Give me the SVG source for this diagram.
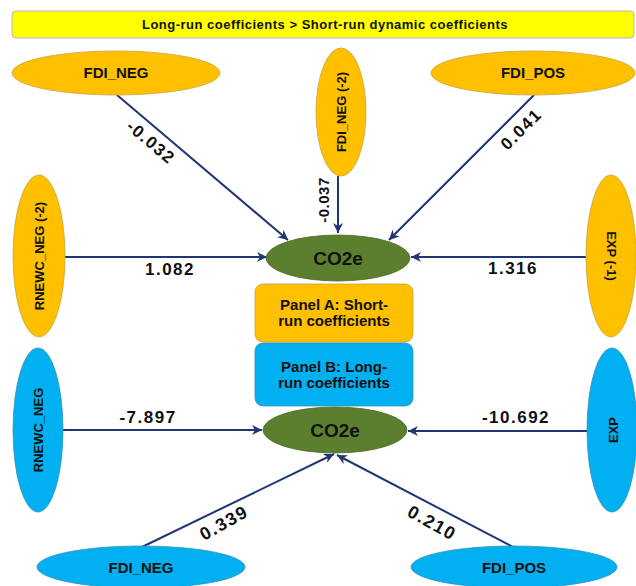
<svg xmlns="http://www.w3.org/2000/svg" width="636" height="586" viewBox="0 0 636 586">
<defs>
<style>
.t{font-family:"Liberation Sans",Arial,sans-serif;font-weight:bold;fill:#111;text-anchor:middle}
.or{fill:#FFC000;stroke:#C9A23A;stroke-width:0.8}
.bl{fill:#00B0F0;stroke:#3A8FB8;stroke-width:0.8}
.gr{fill:#5B7F2E;stroke:#4A6A26;stroke-width:0.8}
.n{font-size:15px}
.v{font-size:13px}
.e{font-size:17px;letter-spacing:1.5px}
.c{font-size:19px}
.p{font-size:15px}
.ln{stroke:#1F3576;stroke-width:2;fill:none;marker-end:url(#ah)}
</style>
<marker id="ah" viewBox="0 0 10 10" refX="10" refY="5" markerWidth="5" markerHeight="5" orient="auto" markerUnits="strokeWidth">
<path d="M0,0 L10,5 L0,10 L3,5 Z" fill="#1F3576"/>
</marker>
</defs>
<rect width="636" height="586" fill="#fff"/>

<g id="title">
<rect x="12" y="11" width="622" height="27" rx="4" fill="#FFFF00" stroke="#B8B8B8" stroke-width="1"/>
<text class="t" x="325" y="29" font-size="13" letter-spacing="0.5">Long-run coefficients &gt; Short-run dynamic coefficients</text>
</g>

<g id="connectors">
<line class="ln" x1="117" y1="95" x2="288" y2="240"/>
<line class="ln" x1="338" y1="176" x2="338" y2="233"/>
<line class="ln" x1="534" y1="95" x2="389" y2="240"/>
<line class="ln" x1="65" y1="257" x2="267" y2="257"/>
<line class="ln" x1="586" y1="257" x2="411" y2="257"/>
<line class="ln" x1="63" y1="430" x2="262" y2="430"/>
<line class="ln" x1="588" y1="431" x2="408" y2="431"/>
<line class="ln" x1="142" y1="547" x2="334" y2="454"/>
<line class="ln" x1="513" y1="547" x2="337" y2="455"/>
<text class="t e" transform="translate(151,142) rotate(40)" y="6">-0.032</text>
<text class="t" font-size="15" letter-spacing="0.5" transform="translate(324,200) rotate(-90)" y="5">-0.037</text>
<text class="t e" transform="translate(521,129) rotate(-45)" y="6">0.041</text>
<text class="t e" x="170" y="275">1.082</text>
<text class="t e" x="513" y="274">1.316</text>
<text class="t e" x="148" y="423">-7.897</text>
<text class="t e" x="516" y="423">-10.692</text>
<text class="t" font-size="18" letter-spacing="1.5" transform="translate(224,523) rotate(-29)" y="6">0.339</text>
<text class="t" font-size="18" letter-spacing="1.5" transform="translate(432,523) rotate(29)" y="6">0.210</text>
</g>

<g id="fdi_neg_sr">
<ellipse class="or" cx="116" cy="73" rx="104" ry="22"/>
<text class="t n" x="116" y="78">FDI_NEG</text>
</g>
<g id="fdi_neg2_sr">
<ellipse class="or" cx="341" cy="112" rx="25" ry="64"/>
<text class="t v" transform="translate(341,112) rotate(-90)" y="4.5">FDI_NEG (-2)</text>
</g>
<g id="fdi_pos_sr">
<ellipse class="or" cx="533" cy="73" rx="102" ry="22"/>
<text class="t n" x="533" y="78">FDI_POS</text>
</g>
<g id="rnewc_neg2_sr">
<ellipse class="or" cx="39" cy="256" rx="26" ry="81"/>
<text class="t v" transform="translate(39,256) rotate(-90)" y="4.5">RNEWC_NEG (-2)</text>
</g>
<g id="exp1_sr">
<ellipse class="or" cx="611" cy="256" rx="25" ry="81"/>
<text class="t v" transform="translate(611,256) rotate(90)" y="4.5">EXP (-1)</text>
</g>
<g id="co2e_sr">
<ellipse class="gr" cx="338" cy="258" rx="72" ry="23"/>
<text class="t c" x="338" y="265">CO2e</text>
</g>
<g id="panel_a">
<rect x="255" y="284" width="158" height="58" rx="8" fill="#FFC000" stroke="#C9A23A" stroke-width="0.8"/>
<text class="t p" x="334" y="310">Panel A: Short-</text>
<text class="t p" x="334" y="326">run coefficients</text>
</g>
<g id="panel_b">
<rect x="255" y="343" width="158" height="63" rx="8" fill="#00B0F0" stroke="#3A8FB8" stroke-width="0.8"/>
<text class="t p" x="334" y="372">Panel B: Long-</text>
<text class="t p" x="334" y="388">run coefficients</text>
</g>
<g id="co2e_lr">
<ellipse class="gr" cx="335" cy="430" rx="72" ry="23"/>
<text class="t c" x="335" y="437">CO2e</text>
</g>
<g id="rnewc_neg_lr">
<ellipse class="bl" cx="38" cy="430" rx="25" ry="82"/>
<text class="t v" transform="translate(38,430) rotate(-90)" y="4.5">RNEWC_NEG</text>
</g>
<g id="exp_lr">
<ellipse class="bl" cx="612" cy="430" rx="25" ry="82"/>
<text class="t v" transform="translate(613,430) rotate(-90)" y="4.5">EXP</text>
</g>
<g id="fdi_neg_lr">
<ellipse class="bl" cx="141" cy="567" rx="104" ry="21"/>
<text class="t n" x="141" y="573">FDI_NEG</text>
</g>
<g id="fdi_pos_lr">
<ellipse class="bl" cx="514" cy="567" rx="103" ry="21"/>
<text class="t n" x="514" y="573">FDI_POS</text>
</g>
</svg>
